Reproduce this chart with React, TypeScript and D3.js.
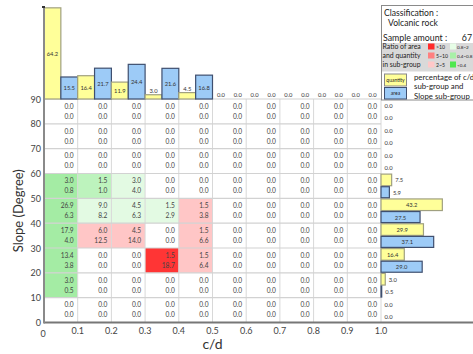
import React from 'react';
import * as d3 from 'd3';

const W = 473;
const H = 354;

// c/d bin edges and slope bin edges
const cdEdges = [0, 0.1, 0.2, 0.3, 0.4, 0.5, 0.6, 0.7, 0.8, 0.9, 1.0];
const slopeEdges = [0, 10, 20, 30, 40, 50, 60, 70, 80, 90];
const cdTickLabels = ['0.1', '0.2', '0.3', '0.4', '0.5', '0.6', '0.7', '0.8', '0.9', '1.0'];
const slopeTickLabels = [0, 10, 20, 30, 40, 50, 60, 70, 80, 90];

// marginal percentages per c/d sub-group
const cdQuantity = [64.2, 16.4, 11.9, 3.0, 4.5, 0.0, 0.0, 0.0, 0.0, 0.0];
const cdArea = [15.5, 21.7, 24.4, 21.6, 16.8, 0.0, 0.0, 0.0, 0.0, 0.0];

// marginal percentages per slope sub-group (0–10 first)
const slopeQuantity = [0.0, 3.0, 16.4, 29.9, 43.2, 7.5, 0.0, 0.0, 0.0];
const slopeArea = [0.0, 0.5, 29.0, 37.1, 27.5, 5.9, 0.0, 0.0, 0.0];

// joint percentages, rows = slope 0–10 .. 80–90, columns = c/d 0–0.1 .. 0.9–1.0
const cellQuantity = [
  [0.0, 0.0, 0.0, 0.0, 0.0, 0.0, 0.0, 0.0, 0.0, 0.0],
  [3.0, 0.0, 0.0, 0.0, 0.0, 0.0, 0.0, 0.0, 0.0, 0.0],
  [13.4, 0.0, 0.0, 1.5, 1.5, 0.0, 0.0, 0.0, 0.0, 0.0],
  [17.9, 6.0, 4.5, 0.0, 1.5, 0.0, 0.0, 0.0, 0.0, 0.0],
  [26.9, 9.0, 4.5, 1.5, 1.5, 0.0, 0.0, 0.0, 0.0, 0.0],
  [3.0, 1.5, 3.0, 0.0, 0.0, 0.0, 0.0, 0.0, 0.0, 0.0],
  [0.0, 0.0, 0.0, 0.0, 0.0, 0.0, 0.0, 0.0, 0.0, 0.0],
  [0.0, 0.0, 0.0, 0.0, 0.0, 0.0, 0.0, 0.0, 0.0, 0.0],
  [0.0, 0.0, 0.0, 0.0, 0.0, 0.0, 0.0, 0.0, 0.0, 0.0],
];
const cellArea = [
  [0.0, 0.0, 0.0, 0.0, 0.0, 0.0, 0.0, 0.0, 0.0, 0.0],
  [0.5, 0.0, 0.0, 0.0, 0.0, 0.0, 0.0, 0.0, 0.0, 0.0],
  [3.8, 0.0, 0.0, 18.7, 6.4, 0.0, 0.0, 0.0, 0.0, 0.0],
  [4.0, 12.5, 14.0, 0.0, 6.6, 0.0, 0.0, 0.0, 0.0, 0.0],
  [6.3, 8.2, 6.3, 2.9, 3.8, 0.0, 0.0, 0.0, 0.0, 0.0],
  [0.8, 1.0, 4.0, 0.0, 0.0, 0.0, 0.0, 0.0, 0.0, 0.0],
  [0.0, 0.0, 0.0, 0.0, 0.0, 0.0, 0.0, 0.0, 0.0, 0.0],
  [0.0, 0.0, 0.0, 0.0, 0.0, 0.0, 0.0, 0.0, 0.0, 0.0],
  [0.0, 0.0, 0.0, 0.0, 0.0, 0.0, 0.0, 0.0, 0.0, 0.0],
];

// area / quantity ratio classes
const ratioBreaks = [0.4, 0.8, 2, 5, 10];
const ratioLabels = ['<0.4', '0.4~0.8', '0.8~2', '2~5', '5~10', '>10'];
const ratioCellColors = ['#a4eca4', '#bdf3bd', '#e3fae3', '#ffc6c6', '#ff8c8c', '#ff3535'];
const ratioSwatchColors = ['#4fe84f', '#a8f0a8', '#e6fde6', '#ffc8c8', '#ff8080', '#ff2a2a'];

const sampleAmount = 67;
const rockClass = 'Volcanic rock';

const FONT = "Lato, 'Open Sans', sans-serif";
const YELLOW = '#ffff99';
const YELLOW_STROKE = '#a0a080';
const BLUE = '#9dcbf7';
const BLUE_STROKE = '#3f4f6f';

export default function App() {
  const x = d3.scaleLinear().domain([0, 1]).range([44, 381]);
  const y = d3.scaleLinear().domain([0, 90]).range([322.5, 99]);
  const pct = d3.scaleLinear().domain([0, 100]).range([0, 142]);
  const fmt = d3.format('.1f');

  const cellColor = d3.scaleThreshold<number, string>().domain(ratioBreaks).range(ratioCellColors);

  const base = y(90);
  const axisX = x(0);
  const right = x(1);

  const cols = cdEdges.slice(0, -1).map((e, i) => {
    const x0 = x(e);
    const x1 = x(cdEdges[i + 1]);
    return { i, x0, x1, mid: (x0 + x1) / 2 };
  });
  const rows = slopeEdges.slice(0, -1).map((s, j) => {
    const top = y(slopeEdges[j + 1]);
    const bot = y(s);
    return { j, top, bot, mid: (top + bot) / 2 };
  });

  const topBar = (v: number, xa: number, xb: number, fill: string, stroke: string, key: string) => {
    const h = pct(v);
    const inside = h >= 10;
    return (
      <g key={key}>
        {v > 0 && (
          <rect x={xa} y={base - h} width={xb - xa} height={h} fill={fill} stroke={stroke} strokeWidth={1.2} />
        )}
        <text
          x={(xa + xb) / 2}
          y={inside ? base - h / 2 : base - h - 2}
          dominantBaseline={inside ? 'central' : 'auto'}
          textAnchor="middle"
          fontSize={5.8}
          fill="#333"
        >
          {fmt(v)}
        </text>
      </g>
    );
  };

  const sideBar = (v: number, ya: number, yb: number, fill: string, stroke: string, key: string) => {
    const w = pct(v);
    const inside = w >= 14;
    return (
      <g key={key}>
        {v > 0 && (
          <rect x={right} y={ya} width={w} height={yb - ya} fill={fill} stroke={stroke} strokeWidth={1.2} />
        )}
        <text
          x={inside ? right + w / 2 : right + w + 3.5}
          y={(ya + yb) / 2}
          dominantBaseline="central"
          textAnchor={inside ? 'middle' : 'start'}
          fontSize={5.8}
          fill="#333"
        >
          {fmt(v)}
        </text>
      </g>
    );
  };

  // legend rows: left swatch column (high ratios), right swatch column (low ratios)
  const legendRows = [
    { label: 'Ratio of area', left: 5, rightIdx: 2 },
    { label: 'and quantity', left: 4, rightIdx: 1 },
    { label: 'in sub-group', left: 3, rightIdx: 0 },
  ];

  return (
    <svg
      width={W}
      height={H}
      style={{ position: 'absolute', left: 0, top: 0, background: '#fff' }}
      fontFamily={FONT}
    >
      {/* heat-map cells */}
      {rows.map((r) =>
        cols.map((c) => {
          const q = cellQuantity[r.j][c.i];
          const a = cellArea[r.j][c.i];
          const fill = q > 0 ? cellColor(a / q) : '#ffffff';
          return (
            <g key={`c${r.j}-${c.i}`}>
              <rect x={c.x0} y={r.top} width={c.x1 - c.x0} height={r.bot - r.top} fill={fill} />
              <text x={c.x1 - 4} y={r.top + 9.8} textAnchor="end" fontSize={6.6} fill="#444">
                {fmt(q)}
              </text>
              <text x={c.x1 - 4} y={r.top + 19.8} textAnchor="end" fontSize={6.6} fill="#444">
                {fmt(a)}
              </text>
            </g>
          );
        })
      )}

      {/* grid */}
      {cdEdges.map((e, i) => (
        <line key={`gv${i}`} x1={x(e)} x2={x(e)} y1={y(0)} y2={y(90)} stroke="#d8d8d8" strokeWidth={1} />
      ))}
      {slopeTickLabels.map((s, i) => (
        <line key={`gh${i}`} x1={axisX} x2={right} y1={y(s)} y2={y(s)} stroke="#d2d2d2" strokeWidth={1.2} />
      ))}

      {/* c/d marginal bars */}
      {cols.map((c) => [
        topBar(cdQuantity[c.i], c.x0, c.mid, YELLOW, YELLOW_STROKE, `tq${c.i}`),
        topBar(cdArea[c.i], c.mid, c.x1, BLUE, BLUE_STROKE, `ta${c.i}`),
      ])}

      {/* slope marginal bars */}
      {rows.map((r) => [
        sideBar(slopeQuantity[r.j], r.top + 0.6, r.mid - 0.2, YELLOW, YELLOW_STROKE, `sq${r.j}`),
        sideBar(slopeArea[r.j], r.mid + 0.8, r.bot - 0.6, BLUE, BLUE_STROKE, `sa${r.j}`),
      ])}

      {/* axes */}
      <line x1={axisX} x2={W} y1={y(0)} y2={y(0)} stroke="#777" strokeWidth={2} />
      <line x1={axisX} x2={axisX} y1={y(0) + 1} y2={7} stroke="#8a8a8a" strokeWidth={2} />
      <line x1={axisX - 2} x2={axisX + 1} y1={7} y2={7} stroke="#333" strokeWidth={2} />

      {cdEdges.slice(1).map((e, i) => (
        <text key={`xt${i}`} x={x(e)} y={334} textAnchor="middle" fontSize={9} fill="#444">
          {cdTickLabels[i]}
        </text>
      ))}
      <text x={x(0) - 1} y={337} textAnchor="middle" fontSize={9} fill="#444">
        0
      </text>
      {slopeTickLabels.map((s) => (
        <text key={`yt${s}`} x={41} y={y(s)} dominantBaseline="central" textAnchor="end" fontSize={9} fill="#444">
          {s}
        </text>
      ))}

      <text x={(x(0) + x(1)) / 2} y={349} textAnchor="middle" fontSize={14} fill="#333">
        c/d
      </text>
      <text
        transform={`translate(23, ${(y(0) + y(90)) / 2}) rotate(-90)`}
        textAnchor="middle"
        fontSize={13}
        fill="#333"
      >
        Slope (Degree)
      </text>

      {/* legend */}
      <g>
        <rect x={381.5} y={5.5} width={120} height={94.5} fill="#fff" stroke="#8a8a8a" strokeWidth={1} />
        <text x={384} y={16} fontSize={8.6} fill="#222">
          Classification :
        </text>
        <text x={388} y={26} fontSize={8.6} fill="#222">
          {rockClass}
        </text>
        <text x={383} y={40.5} fontSize={8.8} fill="#222">
          Sample amount :
        </text>
        <text x={472} y={40.5} textAnchor="end" fontSize={8.8} fill="#222">
          {sampleAmount}
        </text>
        <rect x={382} y={43} width={100} height={28.5} fill="#d9d9d9" />
        {legendRows.map((lr, k) => {
          const yy = 43.5 + k * 9;
          return (
            <g key={`lr${k}`}>
              <text x={382.5} y={yy + 5.4} fontSize={6.9} fill="#222">
                {lr.label}
              </text>
              <rect x={428} y={yy} width={6.5} height={6} fill={ratioSwatchColors[lr.left]} />
              <text x={436} y={yy + 5} fontSize={5.2} fill="#222">
                {ratioLabels[lr.left]}
              </text>
              <rect x={450} y={yy} width={6} height={6} fill={ratioSwatchColors[lr.rightIdx]} />
              <text x={457} y={yy + 5} fontSize={4.6} fill="#222">
                {ratioLabels[lr.rightIdx]}
              </text>
            </g>
          );
        })}
        <rect x={384.5} y={74} width={22} height={12} fill={YELLOW} stroke="#888" strokeWidth={1} />
        <text x={395.5} y={80} dominantBaseline="central" textAnchor="middle" fontSize={5} fill="#222">
          quantity
        </text>
        <rect x={384.5} y={87.5} width={22} height={11.5} fill={BLUE} stroke={BLUE_STROKE} strokeWidth={1} />
        <text x={395.5} y={93.3} dominantBaseline="central" textAnchor="middle" fontSize={5} fill="#222">
          area
        </text>
        <text x={414} y={79.5} fontSize={7.8} fill="#222">
          percentage of c/d
        </text>
        <text x={414} y={89} fontSize={7.8} fill="#222">
          sub-group and
        </text>
        <text x={414} y={98.5} fontSize={7.8} fill="#222">
          Slope sub-group
        </text>
      </g>
    </svg>
  );
}
